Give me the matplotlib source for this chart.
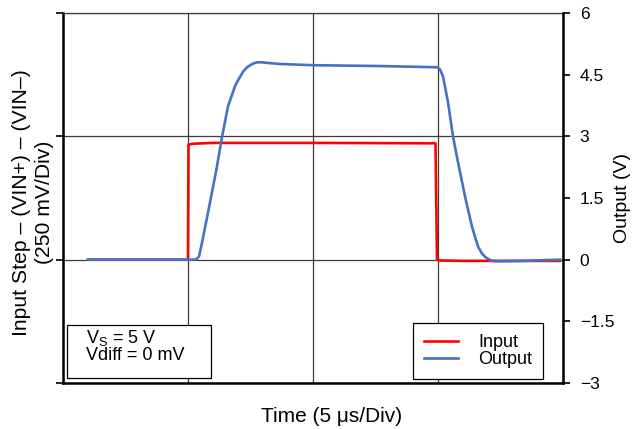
import numpy as np
import matplotlib.pyplot as plt

plt.rcParams['font.family'] = ['Liberation Sans', 'DejaVu Sans']

# time in us (5 us per division), values in V on the output scale
t_in = [1.0, 5.0, 5.02, 5.2, 6.0, 10.0, 14.9, 14.96, 15.1, 16.0, 19.88]
v_in = [0.0, 0.0, 2.80, 2.82, 2.84, 2.84, 2.83, 0.0, -0.02, -0.03, -0.03]

t_out = [1.0, 5.08, 5.28, 5.36, 5.44, 5.56, 5.88, 6.16, 6.36, 6.6, 6.88, 7.0,
         7.2, 7.36, 7.6, 7.76, 7.96, 8.28, 8.68, 10.0, 12.68, 14.96, 15.08,
         15.2, 15.4, 15.6, 15.8, 16.08, 16.36, 16.6, 16.76, 16.88, 17.0,
         17.16, 17.48, 18.48, 19.28, 19.88]
v_out = [0.0, 0.0, 0.0, 0.02, 0.08, 0.41, 1.39, 2.27, 2.98, 3.73, 4.22, 4.36,
         4.57, 4.68, 4.77, 4.80, 4.80, 4.78, 4.76, 4.73, 4.71, 4.68, 4.63,
         4.46, 3.83, 3.0, 2.37, 1.54, 0.80, 0.32, 0.15, 0.07, 0.02,
         -0.03, -0.04, -0.03, -0.01, 0.0]

right_ticks = [-3, -1.5, 0, 1.5, 3, 4.5, 6]
right_labels = ['\u22123', '\u22121.5', '0', '1.5', '3', '4.5', '6']

fig = plt.figure(figsize=(6.39, 4.29), dpi=100)
ax = fig.add_axes([63/639, 46/429, 500/639, 370/429])

ax.plot(t_in, v_in, color='#ff0000', lw=1.9, label='Input', solid_joinstyle='round')
ax.plot(t_out, v_out, color='#4472c4', lw=1.9, label='Output', solid_joinstyle='round')

ax.set_xlim(0, 20)
ax.set_ylim(-3, 6)
ax.set_xticks([0, 5, 10, 15, 20])
ax.set_xticklabels([])
ax.tick_params(axis='x', length=0)
ax.set_yticks([-3, 0, 3, 6])
ax.set_yticklabels([])
ax.tick_params(axis='y', direction='out', length=5, width=1.2)
ax.grid(True, color='#3a3a3a', lw=0.9)
ax.set_axisbelow(True)

for s in ['left', 'bottom', 'right']:
    ax.spines[s].set_linewidth(1.8)
ax.spines['top'].set_linewidth(0.9)
ax.spines['top'].set_color('#3a3a3a')

ax2 = ax.twinx()
ax2.set_ylim(-3, 6)
ax2.set_yticks(right_ticks)
ax2.set_yticklabels(right_labels, fontsize=12.5)
ax2.tick_params(axis='y', direction='out', length=5, width=1.2, pad=7)
for s in ax2.spines.values():
    s.set_visible(False)
ax2.set_ylabel('Output (V)', fontsize=14, labelpad=0)

ax.set_ylabel('Input Step \u2013 (VIN+) \u2013 (VIN\u2013)\n(250 mV/Div)',
              fontsize=15.2, linespacing=1.25)
ax.yaxis.set_label_coords(-0.018, 0.487)
ax.set_xlabel('Time (5 \u03bcs/Div)', fontsize=15)
ax.xaxis.set_label_coords(0.538, -0.065)

ax.text(0.045, 0.05, 'V$_\\mathregular{S}$ = 5 V\nVdiff = 0 mV', transform=ax.transAxes,
        fontsize=13, va='bottom', ha='left', linespacing=1.0, zorder=6)
ax.add_patch(plt.Rectangle((4/500, 5/370), 144/500, 53/370, transform=ax.transAxes,
                           fc='white', ec='black', lw=0.9, zorder=5))

leg = ax.legend(loc='lower right', bbox_to_anchor=(0.96, 0.011), borderaxespad=0,
                fontsize=13, fancybox=False, edgecolor='black', framealpha=1,
                borderpad=0.6, labelspacing=0.0, handlelength=1.9, handletextpad=1.1)
leg.get_frame().set_linewidth(0.9)
leg.set_zorder(5)

fig.savefig('out.png', dpi=100)
